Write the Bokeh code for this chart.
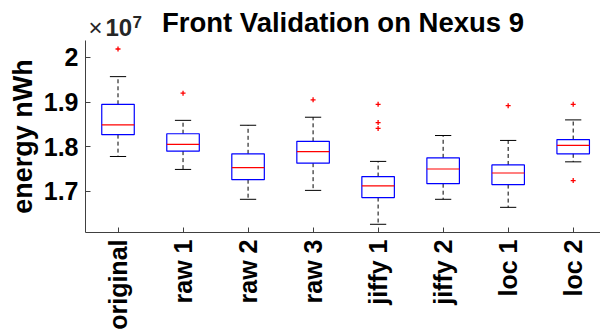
from bokeh.plotting import figure
from bokeh.models import Range1d, FixedTicker, Label
from bokeh.layouts import column
from bokeh.embed import file_html
from bokeh.resources import INLINE
import math

# ---- data (energy in units of 1e7 nWh) ----
categories = ["original", "raw 1", "raw 2", "raw 3", "jiffy 1", "jiffy 2", "loc 1", "loc 2"]
upper_whisker = [1.957, 1.859, 1.848, 1.866, 1.767, 1.825, 1.814, 1.860]
q3 = [1.895, 1.829, 1.784, 1.812, 1.733, 1.775, 1.759, 1.816]
median = [1.849, 1.805, 1.753, 1.789, 1.712, 1.750, 1.741, 1.803]
q1 = [1.827, 1.790, 1.726, 1.763, 1.686, 1.717, 1.715, 1.784]
lower_whisker = [1.778, 1.749, 1.682, 1.702, 1.626, 1.682, 1.664, 1.766]
outlier_cat = ["original", "raw 1", "raw 3", "jiffy 1", "jiffy 1", "jiffy 1", "loc 1", "loc 2", "loc 2"]
outlier_val = [2.019, 1.920, 1.905, 1.895, 1.854, 1.841, 1.892, 1.895, 1.724]
y_ticks = [1.7, 1.8, 1.9, 2.0]
y_tick_labels = ["1.7", "1.8", "1.9", "2"]
title_text = "Front Validation on Nexus 9"
multiplier_base = "10"
multiplier_exp = "7"

FONT = "Liberation Sans"
xs = [i + 1 for i in range(len(categories))]
pos = {c: i + 1 for i, c in enumerate(categories)}
ox = [pos[c] for c in outlier_cat]
box_w = 0.5
cap_w = 0.25

x_lo, x_hi = 0.5, 8.42
y_lo, y_hi = 1.6076, 2.038

# ---------- header strip (title and exponent), frame aligned with the axes below ----------
TOP_H = 40
head = figure(width=600, height=TOP_H, output_backend="svg", toolbar_location=None,
              x_range=Range1d(x_lo, x_hi), y_range=Range1d(0, TOP_H),
              min_border=0, min_border_left=85, min_border_right=0, min_border_top=0, min_border_bottom=0)
head.axis.visible = False
head.grid.visible = False
head.outline_line_color = None
head.border_fill_color = "white"
head.background_fill_color = "white"

head.add_layout(Label(x=(x_lo + x_hi) / 2, y=18, text=title_text, text_font=FONT,
                      text_font_size="27.5px", text_font_style="bold", text_color="black",
                      text_align="center", text_baseline="alphabetic"))
head.add_layout(Label(x=x_lo, x_offset=3, y=13, text="×", text_font=FONT,
                      text_font_size="24px", text_color="#262626", text_baseline="alphabetic"))
head.add_layout(Label(x=x_lo, x_offset=20, y=13, text=multiplier_base, text_font=FONT,
                      text_font_size="24px", text_font_style="bold", text_color="#262626",
                      text_baseline="alphabetic"))
head.add_layout(Label(x=x_lo, x_offset=47, y=19, text=multiplier_exp, text_font=FONT,
                      text_font_size="17px", text_font_style="bold", text_color="#262626",
                      text_baseline="alphabetic"))

# ---------- main axes ----------
p = figure(width=600, height=333 - TOP_H, output_backend="svg", toolbar_location=None,
           x_range=Range1d(x_lo, x_hi), y_range=Range1d(y_lo, y_hi),
           min_border_left=85, min_border_right=0, min_border_top=0, min_border_bottom=101)
p.outline_line_color = None
p.background_fill_color = "white"
p.border_fill_color = "white"
p.grid.visible = False

# whiskers (dashed)
p.segment(x0=xs, y0=q3, x1=xs, y1=upper_whisker, line_color="black", line_dash="4 3", line_width=1)
p.segment(x0=xs, y0=q1, x1=xs, y1=lower_whisker, line_color="black", line_dash="4 3", line_width=1)
# caps
p.segment(x0=[x - cap_w / 2 for x in xs], y0=upper_whisker, x1=[x + cap_w / 2 for x in xs], y1=upper_whisker,
          line_color="black", line_width=1)
p.segment(x0=[x - cap_w / 2 for x in xs], y0=lower_whisker, x1=[x + cap_w / 2 for x in xs], y1=lower_whisker,
          line_color="black", line_width=1)
# boxes
p.quad(left=[x - box_w / 2 for x in xs], right=[x + box_w / 2 for x in xs], top=q3, bottom=q1,
       fill_color=None, line_color="#0000ff", line_width=1.2)
# medians
p.segment(x0=[x - box_w / 2 for x in xs], y0=median, x1=[x + box_w / 2 for x in xs], y1=median,
          line_color="#ff0000", line_width=1.2)
# outliers
p.scatter(x=ox, y=outlier_val, marker="cross", size=5, line_color="#ff0000", line_width=1.3)

# axes
for ax in (p.xaxis[0], p.yaxis[0]):
    ax.axis_line_color = "#404040"
    ax.major_tick_line_color = "#404040"
    ax.major_tick_in = 5
    ax.major_tick_out = 0
    ax.minor_tick_line_color = None
    ax.major_label_text_font = FONT
    ax.major_label_text_font_size = "25px"
    ax.major_label_text_font_style = "bold"
    ax.major_label_text_color = "black"
    ax.major_label_standoff = 7

p.xaxis.ticker = FixedTicker(ticks=xs)
p.xaxis.major_label_overrides = {x: c for x, c in zip(xs, categories)}
p.xaxis.major_label_orientation = math.pi / 2

p.yaxis.ticker = FixedTicker(ticks=y_ticks)
p.yaxis.major_label_overrides = {t: l for t, l in zip(y_ticks, y_tick_labels)}
p.yaxis.axis_label = "energy nWh"
p.yaxis.axis_label_text_font = FONT
p.yaxis.axis_label_text_font_size = "27px"
p.yaxis.axis_label_text_font_style = "bold"
p.yaxis.axis_label_text_color = "black"
p.yaxis.axis_label_standoff = 3

layout = column(head, p, spacing=0)
open("out.html", "w").write(file_html(layout, INLINE))
